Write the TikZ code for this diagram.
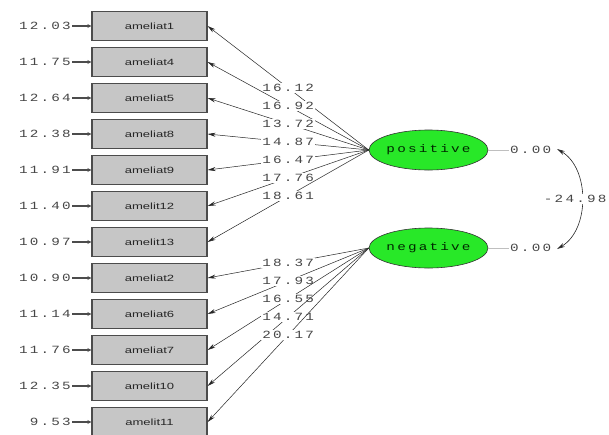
\documentclass[tikz,border=0pt]{standalone}
\usepackage{fontspec}
\usetikzlibrary{shapes.geometric,arrows.meta}
\newfontfamily\lmono[FakeStretch=1.3,LetterSpace=20]{Liberation Mono}
\newfontfamily\lbox[FakeStretch=1.45]{Liberation Sans}
\definecolor{latgreen}{RGB}{40,232,40}
\definecolor{numgray}{RGB}{70,70,70}
\begin{document}
\begin{tikzpicture}[x=1pt,y=-1pt,
  obs/.style={draw=black!70,line width=1.2pt,fill=gray!45,minimum width=115pt,minimum height=29pt,inner sep=0pt,text=black!85,font=\lbox\fontsize{9}{10}\selectfont},
  lat/.style={ellipse,draw=black!80,line width=0.6pt,fill=latgreen,minimum width=113pt,minimum height=40pt,inner sep=0pt,text=black!60!green!40!black,font=\lmono\fontsize{11}{12}\selectfont},
  num/.style={text=numgray,font=\lmono\fontsize{11}{12}\selectfont,inner sep=1pt},
  lbl/.style={num,fill=white,midway},
  load/.style={draw=black!85,line width=0.5pt,-{Stealth[length=8pt,width=4pt]}},
  errarr/.style={draw=black!70,line width=1.4pt,-{Stealth[length=4pt,width=4pt]}},
  covarr/.style={draw=black!85,line width=0.6pt,{Stealth[length=8pt,width=4pt]}-{Stealth[length=8pt,width=4pt]}}
]
\useasboundingbox (0,0) rectangle (609,434);
\fill[white] (0,0) rectangle (609,434);
% observed variables
\foreach \n/\t [count=\i from 0] in {a1/ameliat1,a2/ameliat4,a3/ameliat5,a4/ameliat8,a5/ameliat9,a6/amelit12,a7/amelit13,a8/ameliat2,a9/ameliat6,a10/ameliat7,a11/amelit10,a12/amelit11}
  \node[obs] (\n) at (149.5,{26+36*\i}) {\t};
% error variances
\foreach \n/\v [count=\i from 0] in {a1/12.03,a2/11.75,a3/12.64,a4/12.38,a5/11.91,a6/11.40,a7/10.97,a8/10.90,a9/11.14,a10/11.76,a11/12.35,a12/9.53}
{
  \node[num,anchor=east] (e\n) at (72,{26+36*\i}) {\v};
  \draw[errarr] (e\n.east) -- (\n.west);
}
% latent variables
\node[lat] (pos) at (428.5,150) {positive};
\node[lat] (neg) at (428.5,248) {negative};
% loadings
\draw[load] (pos.west) -- node[lbl] {16.12} (a1.east);
\draw[load] (pos.west) -- node[lbl] {16.92} (a2.east);
\draw[load] (pos.west) -- node[lbl] {13.72} (a3.east);
\draw[load] (pos.west) -- node[lbl] {14.87} (a4.east);
\draw[load] (pos.west) -- node[lbl] {16.47} (a5.east);
\draw[load] (pos.west) -- node[lbl] {17.76} (a6.east);
\draw[load] (pos.west) -- node[lbl] {18.61} (a7.east);
\draw[load] (neg.west) -- node[lbl] {18.37} (a8.east);
\draw[load] (neg.west) -- node[lbl] {17.93} (a9.east);
\draw[load] (neg.west) -- node[lbl] {16.55} (a10.east);
\draw[load] (neg.west) -- node[lbl] {14.71} (a11.east);
\draw[load] (neg.west) -- node[lbl] {20.17} (a12.east);
% latent variances
\node[num,anchor=west] (vp) at (509,150) {0.00};
\node[num,anchor=west] (vn) at (509,248) {0.00};
\draw[black!25,line width=0.8pt] (pos.east) -- (vp.west);
\draw[black!25,line width=0.8pt] (neg.east) -- (vn.west);
% covariance
\coordinate (k1) at (557,149);
\coordinate (k2) at (557,249);
\draw[covarr] (k1) .. controls (590,168) and (590,230) .. node[num,fill=white,pos=0.5,anchor=east,xshift=26pt] {-24.98} (k2);
\end{tikzpicture}
\end{document}
